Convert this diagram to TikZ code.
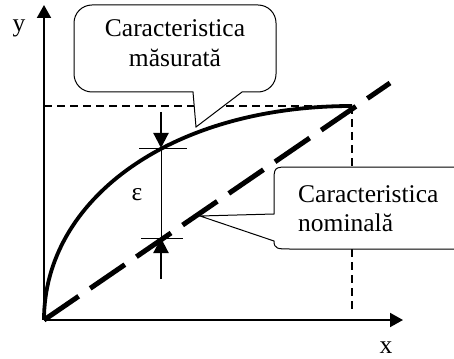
\documentclass[tikz,border=0pt]{standalone}
\usepackage{fontspec}
\setmainfont{Liberation Serif}
\usetikzlibrary{arrows.meta}
\tikzset{
  axis/.style={line width=2pt,-{Triangle[length=13pt,width=14pt]}},
  guide/.style={line width=2pt,dash pattern=on 8pt off 5pt},
  callout/.style={line width=1pt,fill=white},
  lbl/.style={font=\fontsize{25.5}{30}\selectfont,inner sep=0pt,anchor=base},
  epsarrow/.style={line width=2.2pt,-{Triangle[length=15pt,width=15pt]}},
  thin/.style={line width=1pt}
}
\begin{document}
\begin{tikzpicture}[x=1pt,y=-1pt]
\useasboundingbox (0,0) rectangle (454,358);
\clip (0,0) rectangle (454,358);
\coordinate (O) at (44,320);
\coordinate (Ytip) at (44,5);
\coordinate (Xtip) at (403,320);
\coordinate (P) at (352,106);
\coordinate (Hl) at (44,106);
\coordinate (Vb) at (352,313);
\coordinate (Nend) at (390,83);
% axes
\draw[axis] (O) -- (Ytip);
\draw[axis] (O) -- (Xtip);
\node[lbl] (ylab) at (19,32) {y};
\node[lbl] (xlab) at (386,353) {x};
% guide lines
\draw[guide] (Hl) -- (P);
\draw[guide] (P) -- (Vb);
% callout: measured
\draw[callout] (193,92) -- (196,127) -- (242,92) [rounded corners=18pt] -- (276,92) -- (276,5) -- (74,5) -- (74,92) [sharp corners] -- cycle;
\node[lbl] (m1) at (175,37) {Caracteristica};
\node[lbl] (m2) at (175,67) {măsurată};
% callout: nominal
\draw[callout] (200,216) -- (274,241) .. controls (274,249) and (278,249) .. (290,249) -- (470,249) -- (470,167) -- (290,167) .. controls (274,167) .. (274,183) -- (274,214) -- cycle;
\node[lbl,anchor=base west] (n1) at (298,202) {Caracteristica};
\node[lbl,anchor=base west] (n2) at (298,231) {nominală};
% measured curve
\draw[line width=3.8pt] (O) .. controls (44,200) and (170,106) .. (P);
% nominal line
\draw[line width=5pt,dash pattern=on 42pt off 14pt] (O) -- (Nend);
% epsilon
\coordinate (Ea) at (161,112);
\coordinate (Eb) at (161,148);
\coordinate (Ec) at (161,238);
\coordinate (Ed) at (161,279);
\draw[thin] (Eb) -- (Ec);
\draw[thin] (139,148) -- (187,148);
\draw[thin] (141,238) -- (183,238);
\draw[epsarrow] (Ea) -- (Eb);
\draw[epsarrow] (Ed) -- (Ec);
\node[lbl] (eps) at (137,200) {ε};
\end{tikzpicture}
\end{document}
